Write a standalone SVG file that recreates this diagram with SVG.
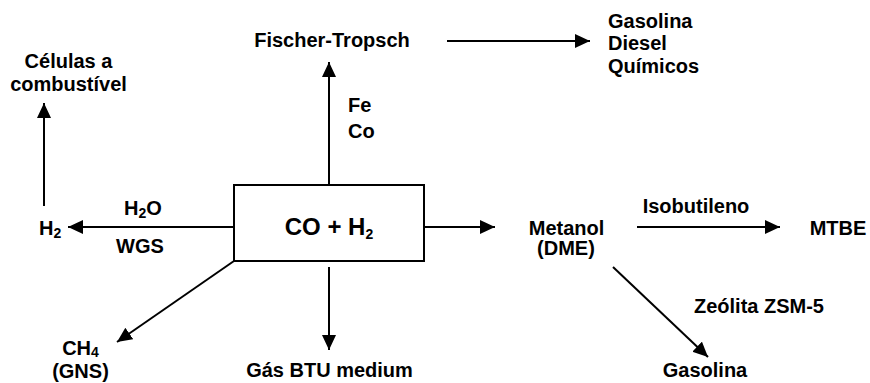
<svg xmlns="http://www.w3.org/2000/svg" width="870" height="383" viewBox="0 0 870 383">
<style>
text{font-family:"Liberation Sans",Arial,sans-serif;font-weight:bold;font-size:20px;fill:#000}
.c{text-anchor:middle}
.big{font-size:24px}
.sub{font-size:14px}
.ln{stroke:#000;stroke-width:2;fill:none;marker-end:url(#ah)}
</style>
<defs>
<marker id="ah" markerUnits="userSpaceOnUse" markerWidth="16" markerHeight="15" refX="15" refY="7" orient="auto">
<path d="M0,0 L15,7 L0,14 z" fill="#000"/>
</marker>
</defs>
<rect width="870" height="383" fill="#fff"/>
<g id="connectors">
<line class="ln" x1="329" y1="185" x2="329" y2="62"/>
<line class="ln" x1="447" y1="41" x2="590" y2="41"/>
<line class="ln" x1="234" y1="227" x2="68" y2="227"/>
<line class="ln" x1="44" y1="206" x2="44" y2="103"/>
<line class="ln" x1="329" y1="267" x2="329" y2="350"/>
<line class="ln" x1="234" y1="261" x2="117" y2="342"/>
<line class="ln" x1="424" y1="227" x2="495" y2="227"/>
<line class="ln" x1="637" y1="227" x2="780" y2="227"/>
<line class="ln" x1="613" y1="267" x2="708" y2="357"/>
</g>
<g id="syngas">
<rect x="234" y="185" width="190" height="76" fill="#fff" stroke="#000" stroke-width="2"/>
<text class="c big" x="329" y="235">CO + H<tspan class="sub" font-size="16" dy="4">2</tspan></text>
</g>
<g id="fischer-tropsch"><text class="c" x="332" y="47">Fischer-Tropsch</text></g>
<g id="fe-co"><text x="348" y="112">Fe</text><text x="348" y="138">Co</text></g>
<g id="ft-products">
<text x="608" y="28">Gasolina</text>
<text x="608" y="50">Diesel</text>
<text x="608" y="73">Químicos</text>
</g>
<g id="celulas">
<text class="c" x="68.5" y="68">Células a</text>
<text class="c" x="68.5" y="91">combustível</text>
</g>
<g id="h2"><text x="39" y="235">H<tspan class="sub" dy="3">2</tspan></text></g>
<g id="wgs-labels">
<text x="124" y="215">H<tspan class="sub" dy="3">2</tspan><tspan dy="-3">O</tspan></text>
<text x="116" y="253">WGS</text>
</g>
<g id="ch4">
<text class="c" x="80.5" y="355">CH<tspan class="sub" dy="2">4</tspan></text>
<text class="c" x="80.5" y="378">(GNS)</text>
</g>
<g id="gas-btu"><text class="c" x="329.5" y="377">Gás BTU medium</text></g>
<g id="metanol">
<text class="c" x="566.5" y="235">Metanol</text>
<text class="c" x="566" y="255">(DME)</text>
</g>
<g id="isobutileno"><text class="c" x="696" y="213">Isobutileno</text></g>
<g id="mtbe"><text class="c" x="838" y="235">MTBE</text></g>
<g id="zeolita"><text class="c" x="759" y="313">Zeólita ZSM-5</text></g>
<g id="gasolina2"><text class="c" x="705" y="377">Gasolina</text></g>
</svg>
